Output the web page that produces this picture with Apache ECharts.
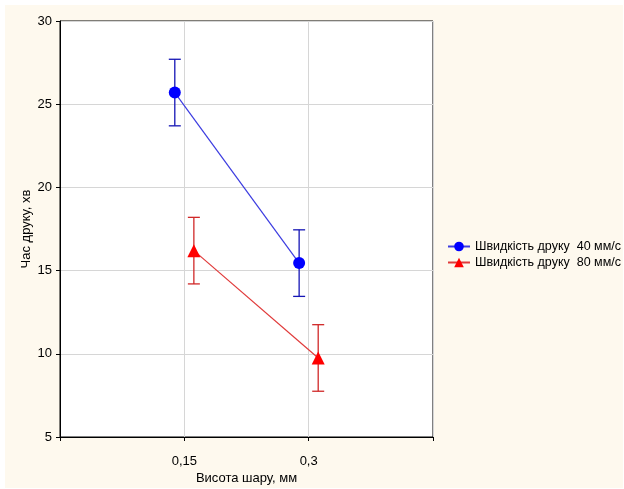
<!DOCTYPE html>
<html>
<head>
<meta charset="utf-8">
<script src="https://cdn.jsdelivr.net/npm/echarts@6/dist/echarts.min.js"></script>
<style>
  html, body { margin: 0; padding: 0; background: #fff; }
  #chart { width: 624px; height: 489px; }
</style>
</head>
<body>
<div id="chart"></div>
<script>
// висота шару, мм
const layers = [0.15, 0.3]
// середній час друку, хв
const speed40 = [25.7, 15.45]
const speed80 = [16.2, 9.75]
// похибка (±)
const err40 = [2.0, 2.0]
const err80 = [2.0, 2.0]
const seriesNames = ['Швидкість друку  40 мм/с', 'Швидкість друку  80 мм/с']
const yTicks = [5, 10, 15, 20, 25, 30]

// зсув точок, щоб не накладались
const dodge = 0.0115

const font = 'Liberation Sans, Arial, sans-serif'

function points (vals, shift) {
  return vals.map((v, i) => [layers[i] + shift, v])
}
function bars (vals, errs, shift) {
  return vals.map((v, i) => [layers[i] + shift, v - errs[i], v + errs[i]])
}

// вуса похибок
function errorBar (color) {
  return function (params, api) {
    const x = api.value(0)
    const lo = api.coord([x, api.value(1)])
    const hi = api.coord([x, api.value(2)])
    const w = 6
    const style = { stroke: color, lineWidth: 1.3 }
    return {
      type: 'group',
      children: [
        { type: 'line', shape: { x1: lo[0], y1: lo[1], x2: hi[0], y2: hi[1] }, style },
        { type: 'line', shape: { x1: hi[0] - w, y1: hi[1], x2: hi[0] + w, y2: hi[1] }, style },
        { type: 'line', shape: { x1: lo[0] - w, y1: lo[1], x2: lo[0] + w, y2: lo[1] }, style }
      ]
    }
  }
}

const myChart = echarts.init(document.getElementById('chart'))
myChart.setOption({
  animation: false,
  textStyle: { fontFamily: font },
  graphic: [
    {
      type: 'rect',
      z: -10,
      silent: true,
      shape: { x: 5, y: 5, width: 618, height: 483 },
      style: { fill: '#FEF9EE' }
    }
  ],
  grid: {
    left: 60,
    right: 191,
    top: 21,
    bottom: 52,
    outerBoundsMode: 'none',
    show: true,
    backgroundColor: '#fff',
    borderColor: '#000',
    borderWidth: 1
  },
  legend: {
    orient: 'vertical',
    left: 442,
    top: 235,
    itemGap: 3,
    itemWidth: 22,
    itemHeight: 12,
    textStyle: { fontSize: 12.5, color: '#000', fontFamily: font },
    data: seriesNames
  },
  xAxis: {
    type: 'value',
    min: 0,
    max: 0.45,
    interval: 0.15,
    name: 'Висота шару, мм',
    nameLocation: 'middle',
    nameGap: 35,
    nameMoveOverlap: false,
    nameTextStyle: { fontSize: 13, color: '#000' },
    axisLine: { lineStyle: { color: '#000' } },
    axisTick: { length: 4, lineStyle: { color: '#000' } },
    axisLabel: {
      fontSize: 13,
      color: '#000',
      margin: 18,
      formatter: v => (v > 0.01 && v < 0.44) ? String(v).replace('.', ',') : ''
    },
    splitLine: { show: true, lineStyle: { color: '#d6d6d6' } }
  },
  yAxis: {
    type: 'value',
    min: yTicks[0],
    max: yTicks[yTicks.length - 1],
    interval: 5,
    name: 'Час друку, хв',
    nameLocation: 'middle',
    nameGap: 27,
    nameMoveOverlap: false,
    nameTextStyle: { fontSize: 13, color: '#000' },
    axisLine: { show: true, lineStyle: { color: '#000' } },
    axisTick: { show: true, length: 4, lineStyle: { color: '#000' } },
    axisLabel: { fontSize: 13, color: '#000', margin: 8 },
    splitLine: { show: true, lineStyle: { color: '#d6d6d6' } }
  },
  series: [
    {
      name: seriesNames[0],
      type: 'line',
      data: points(speed40, -dodge),
      symbol: 'circle',
      symbolSize: 12,
      itemStyle: { color: '#0000FF' },
      lineStyle: { color: '#3C3CE0', width: 1.2 },
      z: 5
    },
    {
      name: seriesNames[1],
      type: 'line',
      data: points(speed80, dodge),
      symbol: 'triangle',
      symbolSize: 13,
      itemStyle: { color: '#FF0000' },
      lineStyle: { color: '#E03A3A', width: 1.2 },
      z: 5
    },
    {
      name: 'err40',
      type: 'custom',
      renderItem: errorBar('#1515B5'),
      data: bars(speed40, err40, -dodge),
      encode: { x: 0, y: [1, 2] },
      z: 3
    },
    {
      name: 'err80',
      type: 'custom',
      renderItem: errorBar('#D02828'),
      data: bars(speed80, err80, dodge),
      encode: { x: 0, y: [1, 2] },
      z: 3
    }
  ]
})
</script>
</body>
</html>
